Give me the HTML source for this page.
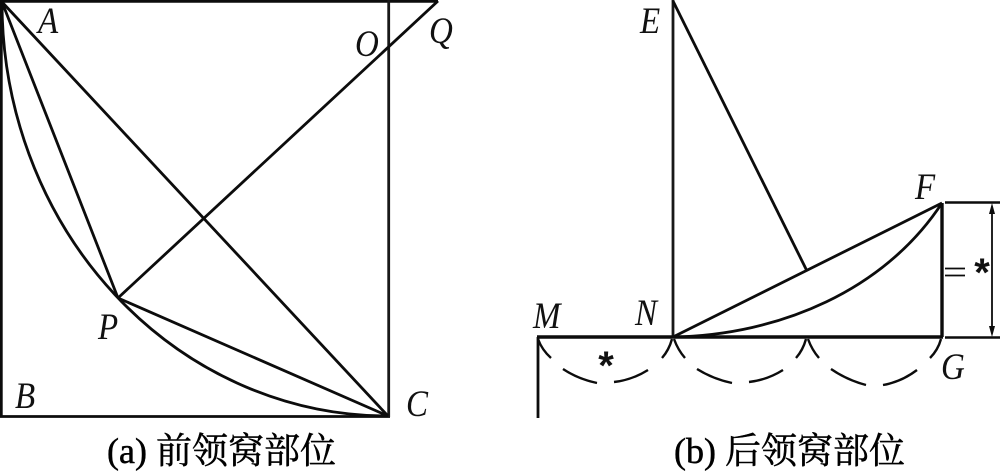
<!DOCTYPE html>
<html>
<head>
<meta charset="utf-8">
<style>
html,body{margin:0;padding:0;background:#fff;width:1000px;height:472px;overflow:hidden}
svg{display:block}
.l{font-family:"Liberation Serif",serif;font-style:italic;font-size:33px;fill:#111}
.c{font-family:"Liberation Serif","Noto Serif CJK SC",serif;font-size:36px;fill:#000;stroke:#000;stroke-width:.5px}
</style>
</head>
<body>
<svg width="1000" height="472" viewBox="0 0 1000 472" xmlns="http://www.w3.org/2000/svg">
<g fill="none" stroke="#0c0c0c" stroke-width="2.8">
  <!-- left figure -->
  <path d="M0 1.2H438" stroke-width="3"/>
  <path d="M1.300 0V417" stroke-width="2.800"/>
  <path d="M0 416.5H390" stroke-width="2.8"/>
  <path d="M388.7 0V417" stroke-width="2.8" stroke="#181818"/>
  <path d="M2 2L388 416"/>
  <path d="M438 1L118 298"/>
  <path d="M2 2L118 298"/>
  <path d="M118 298L388 416"/>
  <path d="M2 2A386 414 0 0 0 388 416"/>
  <!-- right figure -->
  <path d="M673 0V337" stroke-width="2.8" stroke="#181818"/>
  <path d="M673 1L807 271"/>
  <path d="M673 337L942 203"/>
  <path d="M673 337C780 335 885 290 942 203"/>
  <path d="M537 337H943" stroke-width="3.4"/>
  <path d="M538 337V418" stroke-width="2.8"/>
  <path d="M942 203V337" stroke-width="3.4"/>
  <path d="M945 202.500H1000" stroke-width="2.4"/>
  <path d="M945 337.500H1000" stroke-width="2.4"/>
  <path d="M992 208V332" stroke-width="1.8"/>
  <!-- equals sign -->
  <path d="M945 268.500H965M945 275.500H965" stroke-width="1.8"/>
  <!-- dashed arcs -->
  <g stroke-width="2.4">
  <path d="M538 339Q542 350 551 358"/>
  <path d="M563 369Q578 379 597 383"/>
  <path d="M614 382Q632 380 648 370"/>
  <path d="M662 358Q669 350 672 339"/>
  <path d="M674 339Q678 350 685 358"/>
  <path d="M697 369Q713 379 732 383"/>
  <path d="M749 382Q767 380 783 370"/>
  <path d="M796 358Q803 350 806 339"/>
  <path d="M808 339Q812 350 819 358"/>
  <path d="M831 369Q847 380 866 385"/>
  <path d="M883 385Q901 382 917 370"/>
  <path d="M930 358Q938 350 941 339"/>
  </g>
</g>
<!-- arrowheads -->
<path d="M992 203L995 214H989Z" fill="#0c0c0c"/>
<path d="M992 337L995 326H989Z" fill="#0c0c0c"/>
<!-- labels -->
<text class="l" transform="translate(38 33) scale(1 1.13)">A</text>
<text class="l" transform="translate(355 56) scale(1 1.13)">O</text>
<text class="l" transform="translate(429 43) scale(1 1.13)">Q</text>
<text class="l" transform="translate(98 339) scale(1 1.13)">P</text>
<text class="l" transform="translate(15 408) scale(1 1.13)">B</text>
<text class="l" transform="translate(406 416) scale(1 1.13)">C</text>
<text class="l" transform="translate(640 33) scale(1 1.13)">E</text>
<text class="l" transform="translate(915 199) scale(1 1.13)">F</text>
<text class="l" transform="translate(533 328) scale(1 1.13)">M</text>
<text class="l" transform="translate(635 325) scale(1 1.13)">N</text>
<text class="l" transform="translate(941 379) scale(1 1.13)">G</text>
<text x="606" y="379" font-family="'Liberation Sans',sans-serif" font-size="40" font-weight="bold" text-anchor="middle" fill="#111">*</text>
<text x="982" y="286" font-family="'Liberation Sans',sans-serif" font-size="40" font-weight="bold" text-anchor="middle" fill="#111">*</text>
<!-- captions -->
<text class="c" x="107" y="463">(a) 前领窝部位</text>
<text class="c" x="674" y="463">(b) 后领窝部位</text>
</svg>
</body>
</html>
